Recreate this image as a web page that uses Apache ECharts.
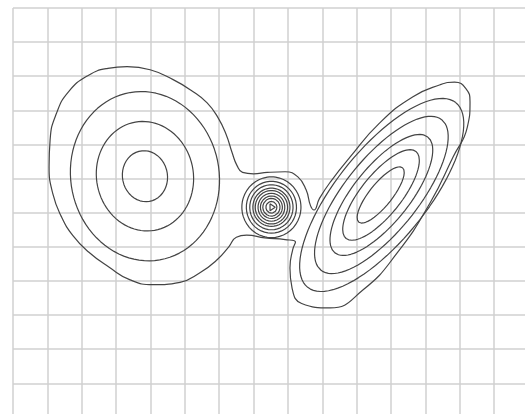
<!DOCTYPE html>
<html>
<head>
<meta charset="utf-8">
<script src="https://cdn.jsdelivr.net/npm/echarts@6/dist/echarts.min.js"></script>
<style>
html, body { margin: 0; padding: 0; background: #fff; }
#main { width: 525px; height: 414px; }
</style>
</head>
<body>
<div id="main"></div>
<script>
// units are grid cells, x to the right, y downward
var xMax = 14.9, yMax = 11.9;

// closed rings: [cx, cy, semi-major, semi-minor, angle of major axis in deg]
var leftRings = [
    [3.84, 4.93, 0.75, 0.655, 80],
    [3.84, 4.93, 1.61, 1.41, 80],
    [3.84, 4.93, 2.49, 2.16, 80]
];
var midRings = [
    [7.52, 5.84, 0.89, 0.86, 90],
    [7.52, 5.84, 0.76, 0.73, 90],
    [7.52, 5.84, 0.66, 0.63, 90],
    [7.52, 5.84, 0.56, 0.54, 90],
    [7.52, 5.84, 0.49, 0.47, 90],
    [7.52, 5.84, 0.41, 0.39, 90],
    [7.52, 5.84, 0.33, 0.32, 90],
    [7.52, 5.84, 0.26, 0.25, 90],
    [7.52, 5.84, 0.17, 0.16, 90]
];
var rightRings = [
    [10.70, 5.48, 1.02, 0.33, -51.5],
    [10.71, 5.48, 1.63, 0.59, -51.5],
    [10.72, 5.48, 2.17, 0.82, -51.5],
    [10.72, 5.48, 2.82, 1.07, -51.5],
    [10.73, 5.48, 3.46, 1.32, -51.5]
];

// the lowest level, one line around all three peaks
var outerContour = [
    [3.32, 1.72], [3.99, 1.81], [4.66, 2.10], [5.21, 2.43], [5.65, 2.78],
    [5.97, 3.22], [6.20, 3.70], [6.38, 4.25], [6.52, 4.62], [6.68, 4.82],
    [7.00, 4.86], [7.40, 4.82], [7.92, 4.80], [8.29, 4.95], [8.53, 5.33],
    [8.66, 5.80], [8.76, 5.92], [8.92, 5.58], [9.25, 5.08], [9.80, 4.38],
    [10.68, 3.36], [11.64, 2.60], [12.43, 2.25], [12.85, 2.17], [13.18, 2.36],
    [13.30, 2.75], [13.22, 3.50], [12.81, 4.36], [12.14, 5.71], [11.18, 7.18],
    [10.19, 8.26], [9.23, 8.79], [8.40, 8.66], [8.12, 8.20], [8.06, 7.62],
    [8.14, 7.08], [8.22, 6.86], [7.92, 6.79], [7.33, 6.74], [6.80, 6.66],
    [6.50, 6.72], [6.28, 7.00], [5.94, 7.38], [5.44, 7.76], [4.86, 8.04],
    [4.07, 8.11], [3.41, 7.97], [2.80, 7.60], [2.20, 7.15],
    [1.75, 6.68], [1.40, 6.10], [1.16, 5.45], [1.05, 4.65], [1.08, 3.86],
    [1.26, 3.10], [1.62, 2.45], [2.20, 1.97], [2.76, 1.77],
    [3.32, 1.72]
];
var centerMark = [[7.48, 5.74], [7.63, 5.84], [7.48, 5.94], [7.48, 5.74]];

function ringPoints(r) {
    var cx = r[0], cy = r[1], a = r[2], b = r[3];
    var ang = r[4] * Math.PI / 180;
    var ux = Math.cos(ang), uy = Math.sin(ang);
    var pts = [];
    for (var i = 0; i <= 90; i++) {
        var t = i / 90 * 2 * Math.PI;
        var p = a * Math.cos(t), q = b * Math.sin(t);
        pts.push([cx + p * ux - q * uy, cy + p * uy + q * ux]);
    }
    return pts;
}

var lineColor = '#444';
var series = [];
function addLine(pts, smooth) {
    series.push({
        type: 'line',
        data: pts,
        symbol: 'none',
        smooth: smooth,
        silent: true,
        lineStyle: { color: lineColor, width: 1.2 }
    });
}
leftRings.concat(midRings, rightRings).forEach(function (r) {
    addLine(ringPoints(r), false);
});
addLine(outerContour, 0.5);
addLine(centerMark, false);

var splitStyle = { show: true, showMaxLine: false, lineStyle: { color: '#d0d0d0', width: 1.5 } };

var chart = echarts.init(document.getElementById('main'));
chart.setOption({
    animation: false,
    grid: { left: 13, top: 8, right: 0, bottom: 0 },
    xAxis: {
        type: 'value', min: 0, max: xMax, interval: 1,
        axisLine: { show: false }, axisTick: { show: false }, axisLabel: { show: false },
        splitLine: splitStyle
    },
    yAxis: {
        type: 'value', min: 0, max: yMax, interval: 1, inverse: true,
        axisLine: { show: false }, axisTick: { show: false }, axisLabel: { show: false },
        splitLine: splitStyle
    },
    series: series
});
</script>
</body>
</html>
